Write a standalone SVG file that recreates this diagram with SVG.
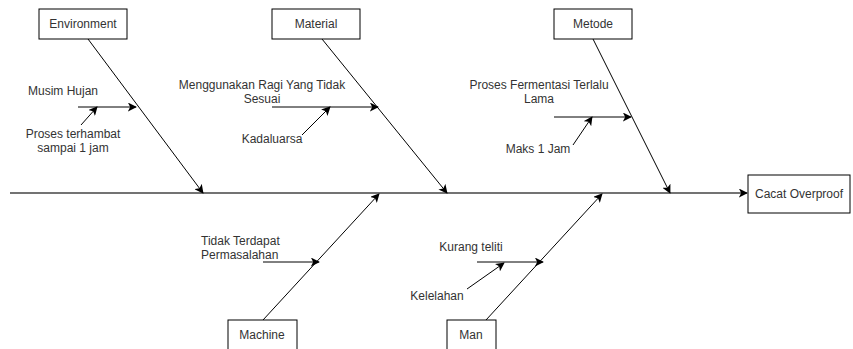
<svg xmlns="http://www.w3.org/2000/svg" width="853" height="349" viewBox="0 0 853 349">
<style>
.box{fill:#fff;stroke:#000;stroke-width:1}
.t{font-family:"Liberation Sans",Arial,sans-serif;font-size:12px;fill:#333}
.c{text-anchor:middle}
.e{fill:none;stroke:#000;stroke-width:1;marker-end:url(#a)}
.sp{fill:none;stroke:#444;stroke-width:1.3;marker-end:url(#a)}
</style>
<defs>
<marker id="a" viewBox="0 0 10 10" refX="9" refY="5" markerWidth="9" markerHeight="9" markerUnits="userSpaceOnUse" orient="auto">
<path d="M0,0 L10,5 L0,10 L2.5,5 Z" fill="#000"/>
</marker>
</defs>
<rect width="853" height="349" fill="#fff"/>
<g id="connectors">
<line class="sp" x1="10" y1="193" x2="747" y2="193"/>
<line class="e" x1="88" y1="39" x2="203" y2="193"/>
<line class="e" x1="322" y1="39" x2="447" y2="193"/>
<line class="e" x1="593" y1="39" x2="670" y2="193"/>
<line class="e" x1="263" y1="320" x2="379" y2="194"/>
<line class="e" x1="486" y1="320" x2="602" y2="194"/>
<line class="e" x1="78" y1="107" x2="136" y2="107"/>
<line class="e" x1="81" y1="125" x2="97" y2="107"/>
<line class="e" x1="272" y1="107" x2="378" y2="107"/>
<line class="e" x1="302" y1="135" x2="330" y2="107"/>
<line class="e" x1="554" y1="117" x2="631" y2="117"/>
<line class="e" x1="573" y1="145" x2="592" y2="117"/>
<line class="e" x1="263" y1="262" x2="319" y2="262"/>
<line class="e" x1="477" y1="262" x2="543" y2="262"/>
<line class="e" x1="467" y1="289" x2="504" y2="263"/>
</g>
<g id="environment"><rect class="box" x="39" y="9" width="88" height="30"/><text class="t c" x="83" y="28">Environment</text></g>
<g id="material"><rect class="box" x="272" y="9" width="88" height="30"/><text class="t c" x="316" y="28">Material</text></g>
<g id="metode"><rect class="box" x="554" y="9" width="78" height="30"/><text class="t c" x="593" y="28">Metode</text></g>
<g id="machine"><rect class="box" x="228" y="320" width="69" height="34"/><text class="t c" x="262" y="339">Machine</text></g>
<g id="man"><rect class="box" x="447" y="320" width="49" height="34"/><text class="t c" x="471" y="339">Man</text></g>
<g id="cacat"><rect class="box" x="748" y="175" width="102" height="38"/><text class="t c" x="799" y="198">Cacat Overproof</text></g>
<g id="musim"><text class="t c" x="63" y="95">Musim Hujan</text></g>
<g id="proses-terhambat"><text class="t c" x="73" y="138">Proses terhambat</text><text class="t c" x="73" y="152">sampai 1 jam</text></g>
<g id="ragi"><text class="t c" x="262" y="89">Menggunakan Ragi Yang Tidak</text><text class="t c" x="262" y="103">Sesuai</text></g>
<g id="kadaluarsa"><text class="t c" x="272" y="143">Kadaluarsa</text></g>
<g id="fermentasi"><text class="t c" x="539" y="89">Proses Fermentasi Terlalu</text><text class="t c" x="539" y="103">Lama</text></g>
<g id="maks"><text class="t c" x="538" y="153">Maks 1 Jam</text></g>
<g id="tidak"><text class="t" x="201" y="245">Tidak Terdapat</text><text class="t" x="201" y="259">Permasalahan</text></g>
<g id="kurang"><text class="t c" x="471" y="251">Kurang teliti</text></g>
<g id="kelelahan"><text class="t c" x="437" y="300">Kelelahan</text></g>
</svg>
